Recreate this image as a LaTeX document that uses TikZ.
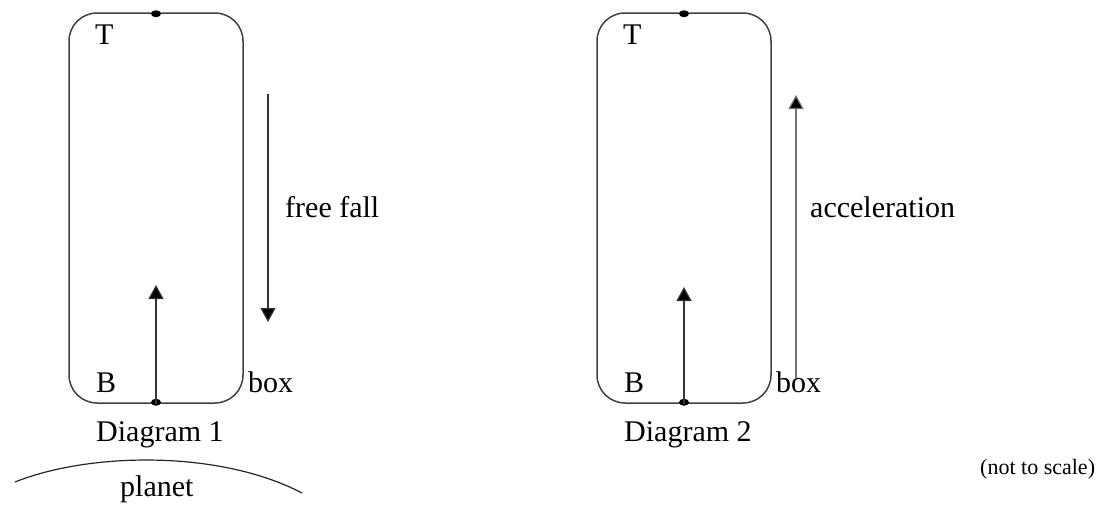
\documentclass[tikz,border=0pt]{standalone}
\usepackage{fontspec}
\setmainfont{Liberation Serif}
\usetikzlibrary{arrows.meta}
\begin{document}
\begin{tikzpicture}[x=1pt,y=-1pt,
  boxshape/.style={draw=black!75, line width=1.5pt, rounded corners=28pt, minimum width=174pt, minimum height=390pt, inner sep=0pt},
  lbl/.style={inner sep=0pt, anchor=base west, font=\fontsize{30}{34}\selectfont},
  small/.style={inner sep=0pt, anchor=base west, font=\fontsize{22}{26}\selectfont},
  arr/.style={draw=black!80, line width=1.2pt, -{Triangle[length=14pt,width=15pt,fill=black]}},
  dotmark/.style={fill=black}]
\useasboundingbox (0,0) rectangle (1102,506);
% Diagram 1
\node[boxshape] (box1) at (156,208) {};
\fill[dotmark] ([yshift=-1.5pt]box1.north) ellipse [x radius=5pt, y radius=3.5pt];
\fill[dotmark] ([yshift=1.5pt]box1.south) ellipse [x radius=5pt, y radius=3.5pt];
\coordinate (a1) at (156,285);
\draw[arr] (box1.south) -- (a1);
\node[lbl] (t1) at (95,44) {T};
\node[lbl] (b1) at (96,392) {B};
\node[lbl] (bx1) at (248,392) {box};
\node[lbl] (dg1) at (96,441) {Diagram 1};
\coordinate (ff1) at (268,94);
\coordinate (ff2) at (268,322);
\draw[arr] (ff1) -- (ff2);
\node[lbl] (fft) at (285,217) {free fall};
\coordinate (p1) at (15,482);
\coordinate (p2) at (302,493);
\draw[line width=1.2pt, black!85] (p1) .. controls (90,452) and (220,450) .. (p2);
\node[lbl] (pl) at (120,496) {planet};
% Diagram 2
\node[boxshape] (box2) at (684,208) {};
\fill[dotmark] ([yshift=-1.5pt]box2.north) ellipse [x radius=5pt, y radius=3.5pt];
\fill[dotmark] ([yshift=1.5pt]box2.south) ellipse [x radius=5pt, y radius=3.5pt];
\coordinate (a2) at (684,287);
\draw[arr] (box2.south) -- (a2);
\node[lbl] (t2) at (623,44) {T};
\node[lbl] (b2) at (624,392) {B};
\node[lbl] (bx2) at (776,392) {box};
\node[lbl] (dg2) at (624,441) {Diagram 2};
\coordinate (ac1) at (796,378);
\coordinate (ac2) at (796,95);
\draw[arr, draw=black!55] (ac1) -- (ac2);
\node[lbl] (act) at (810,217) {acceleration};
\node[small] (nts) at (980,474) {(not to scale)};
\end{tikzpicture}
\end{document}
